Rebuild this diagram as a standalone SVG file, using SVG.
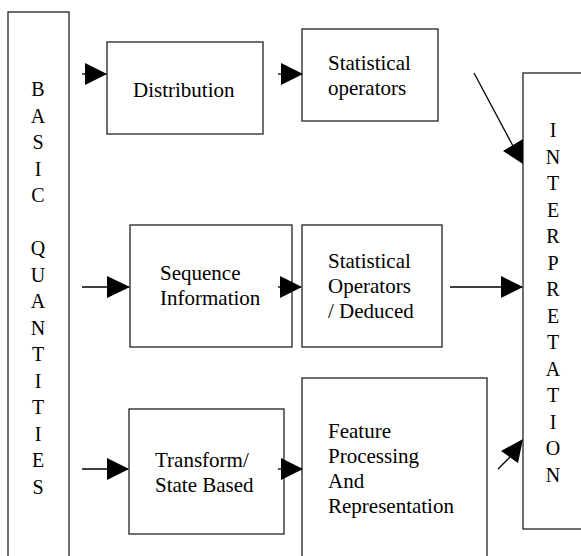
<svg xmlns="http://www.w3.org/2000/svg" width="581" height="556" viewBox="0 0 581 556">
<style>
.box{fill:#fff;stroke:#222;stroke-width:1.3}
.ln{stroke:#000;stroke-width:1.3;fill:none}
.ah{fill:#000;stroke:none}
text{font-family:"Liberation Serif","Times New Roman",serif;font-size:21px;fill:#000}
.col{text-anchor:middle;font-size:20px}
</style>
<rect width="581" height="556" fill="#fff"/>
<g id="basic-quantities">
<rect class="box" x="8" y="12" width="61" height="560"/>
<text class="col" x="38" y="96">B</text>
<text class="col" x="38" y="122.5">A</text>
<text class="col" x="38" y="149">S</text>
<text class="col" x="38" y="175.5">I</text>
<text class="col" x="38" y="202">C</text>
<text class="col" x="38" y="255">Q</text>
<text class="col" x="38" y="281.5">U</text>
<text class="col" x="38" y="308">A</text>
<text class="col" x="38" y="334.5">N</text>
<text class="col" x="38" y="361">T</text>
<text class="col" x="38" y="387.5">I</text>
<text class="col" x="38" y="414">T</text>
<text class="col" x="38" y="440.5">I</text>
<text class="col" x="38" y="467">E</text>
<text class="col" x="38" y="493.5">S</text>
</g>
<g id="distribution">
<rect class="box" x="107" y="42" width="156" height="92"/>
<text x="133" y="97">Distribution</text>
</g>
<g id="statistical-operators">
<rect class="box" x="302" y="29" width="136" height="92"/>
<text x="328" y="70">Statistical</text>
<text x="328" y="95">operators</text>
</g>
<g id="sequence-information">
<rect class="box" x="130" y="225" width="162" height="122"/>
<text x="160" y="280">Sequence</text>
<text x="160" y="305">Information</text>
</g>
<g id="statistical-operators-deduced">
<rect class="box" x="302" y="225" width="140" height="122"/>
<text x="328" y="268">Statistical</text>
<text x="328" y="293">Operators</text>
<text x="328" y="318">/ Deduced</text>
</g>
<g id="transform-state">
<rect class="box" x="129" y="409" width="155" height="125"/>
<text x="155" y="467">Transform/</text>
<text x="155" y="492">State Based</text>
</g>
<g id="feature-processing">
<rect class="box" x="302" y="378" width="185" height="200"/>
<text x="328" y="438">Feature</text>
<text x="328" y="463">Processing</text>
<text x="328" y="488">And</text>
<text x="328" y="513">Representation</text>
</g>
<g id="interpretation">
<rect class="box" x="523" y="73" width="64" height="456"/>
<text class="col" x="553" y="137">I</text>
<text class="col" x="553" y="163.5">N</text>
<text class="col" x="553" y="190">T</text>
<text class="col" x="553" y="216.5">E</text>
<text class="col" x="553" y="243">R</text>
<text class="col" x="553" y="269.5">P</text>
<text class="col" x="553" y="296">R</text>
<text class="col" x="553" y="322.5">E</text>
<text class="col" x="553" y="349">T</text>
<text class="col" x="553" y="375.5">A</text>
<text class="col" x="553" y="402">T</text>
<text class="col" x="553" y="428.5">I</text>
<text class="col" x="553" y="455">O</text>
<text class="col" x="553" y="481.5">N</text>
</g>
<g id="connectors">
<line class="ln" x1="82" y1="74" x2="106" y2="74"/>
<polygon class="ah" points="85,63 107,74 85,85"/>
<line class="ln" x1="278" y1="74" x2="302" y2="74"/>
<polygon class="ah" points="281,63 303,74 281,85"/>
<line class="ln" x1="474" y1="73" x2="513" y2="146"/>
<polygon class="ah" points="503,151 523,139 523,164"/>
<line class="ln" x1="82" y1="287" x2="129" y2="287"/>
<polygon class="ah" points="107,276 130,287 107,298"/>
<line class="ln" x1="278" y1="287" x2="301" y2="287"/>
<polygon class="ah" points="280,276 302,287 280,298"/>
<line class="ln" x1="450" y1="287" x2="522" y2="287"/>
<polygon class="ah" points="501,276 523,287 501,298"/>
<line class="ln" x1="82" y1="469" x2="128" y2="469"/>
<polygon class="ah" points="107,458 129,469 107,480"/>
<line class="ln" x1="278" y1="469" x2="302" y2="469"/>
<polygon class="ah" points="281,458 303,469 281,480"/>
<line class="ln" x1="498" y1="469" x2="510" y2="457"/>
<polygon class="ah" points="501,451 518,463 523,439"/>
</g>
</svg>
